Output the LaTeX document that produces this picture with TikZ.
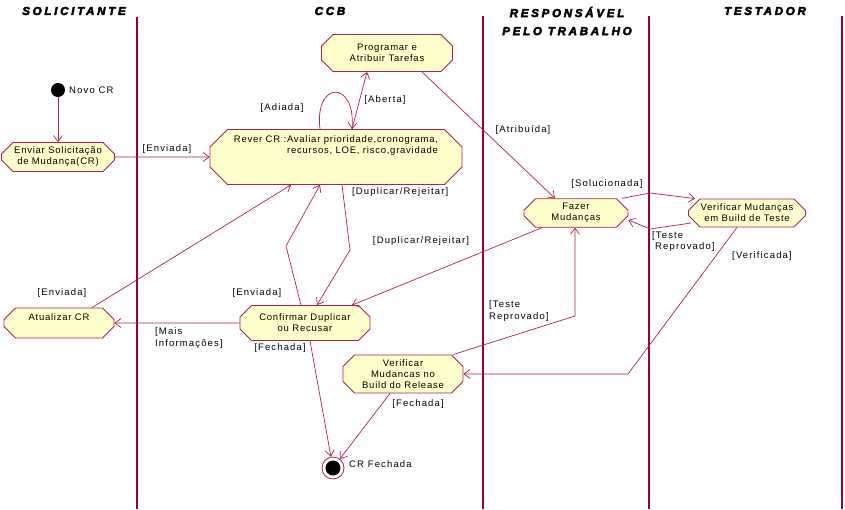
\documentclass[tikz,border=0pt]{standalone}
\usepackage{fontspec}
\setmainfont{Liberation Sans}
\newfontfamily\actfont[LetterSpace=8]{Liberation Sans}
\newfontfamily\guardfont[LetterSpace=12]{Liberation Sans}
\newfontfamily\lanefont[LetterSpace=24,FakeBold=4]{Liberation Sans}
\usetikzlibrary{arrows.meta,shapes.misc}
\definecolor{lanered}{RGB}{150,0,50}
\definecolor{actred}{RGB}{176,32,80}
\definecolor{actfill}{RGB}{255,255,204}
\begin{document}
\begin{tikzpicture}[x=1pt, y=-1pt,
  activity/.style={chamfered rectangle, chamfered rectangle xsep=8pt, draw=actred, fill=actfill,
    line width=0.8pt, inner sep=1pt, align=center, font=\actfont\fontsize{9.5}{11}\selectfont},
  guard/.style={inner sep=0pt, align=left, font=\guardfont\fontsize{9.5}{11.5}\selectfont},
  lane/.style={draw=lanered, line width=2.4pt},
  lanetitle/.style={inner sep=0pt, align=center, font=\lanefont\bfseries\itshape\fontsize{11.5}{18}\selectfont},
  flow/.style={draw=actred, line width=0.7pt, -{Straight Barb[length=6pt,width=9pt]}}]
  \useasboundingbox (0,0) rectangle (845,509);
  \draw[lane] (137,17) -- (137,509);
  \draw[lane] (483,16) -- (483,509);
  \draw[lane] (649,16) -- (649,509);
  \draw[lane] (842,16) -- (842,509);
  \node[lanetitle] (solicitante) at (74,11) {SOLICITANTE};
  \node[lanetitle] (ccb) at (330,11) {CCB};
  \node[lanetitle] (responsavel) at (567,21) {RESPONSÁVEL\\PELO TRABALHO};
  \node[lanetitle] (testador) at (765,11) {TESTADOR};

  \node[circle, fill=black, minimum size=14pt, inner sep=0pt] (novo) at (58,90) {};
  \node[guard, anchor=west] (novoLbl) at (69,90) {Novo CR};
  \node[activity, minimum width=113pt, minimum height=29pt] (enviar) at (58,157) {Enviar Solicitação\\de Mudança(CR)};
  \node[activity, align=right, minimum width=252pt, minimum height=55pt, chamfered rectangle xsep=14pt] (rever) at (336,157)
    {Rever CR :Avaliar prioridade,cronograma,\\recursos, LOE, risco,gravidade\\[14pt]\mbox{}};
  \node[activity, minimum width=131pt, minimum height=37pt] (programar) at (387,53) {Programar e\\Atribuir Tarefas};
  \node[activity, minimum width=104pt, minimum height=28pt] (fazer) at (576,213) {Fazer\\Mudanças};
  \node[activity, minimum width=117pt, minimum height=28pt] (vteste) at (747,213) {Verificar Mudanças\\em Build de Teste};
  \node[activity, minimum width=110pt, minimum height=30pt] (atualizar) at (59,323) {Atualizar CR\\\mbox{}};
  \node[activity, minimum width=130pt, minimum height=35pt] (confirmar) at (305,323) {Confirmar Duplicar\\ou Recusar};
  \node[activity, minimum width=120pt, minimum height=36pt] (vrelease) at (403,374) {Verificar\\Mudancas no\\Build do Release};
  \node[circle, draw=actred, line width=0.8pt, fill=white, minimum size=22pt, inner sep=0pt,
    path picture={\fill[black] (path picture bounding box.center) circle[radius=7.5pt];}] (fim) at (333,468) {};
  \node[guard, anchor=west] (fimLbl) at (349,464) {CR Fechada};

  \coordinate (solBend) at (650,193);
  \coordinate (reprovBend) at (650,229);
  \coordinate (verifBend) at (628,374);
  \coordinate (testeBend) at (575,316);
  \coordinate (dupBend) at (350,250);
  \coordinate (envBend) at (286,246);

  \draw[flow] (novo) -- (enviar);
  \draw[flow] (enviar) -- (rever);
  \draw[flow] ([xshift=-16pt]rever.north) .. controls (314,80) and (356,80) .. ([xshift=16pt]rever.north);
  \draw[flow] ([xshift=16pt]rever.north) -- ([xshift=-20pt]programar.south);
  \draw[flow] ([xshift=35pt]programar.south) -- ([xshift=-21pt]fazer.north);
  \draw[flow] ([xshift=46pt]fazer.north) -- (solBend) -- ([xshift=-52pt]vteste.north);
  \draw[flow] ([xshift=3pt,yshift=-10pt]vteste.west) -- (reprovBend) -- ([yshift=-7pt]fazer.east);
  \draw[flow] ([xshift=-10pt]vteste.south) -- (verifBend) -- (vrelease.east);
  \draw[flow] ([xshift=50pt]vrelease.north) -- (testeBend) -- ([xshift=-1pt]fazer.south);
  \draw[flow] ([xshift=-34pt]fazer.south) -- ([xshift=47pt]confirmar.north);
  \draw[flow] ([xshift=6pt]rever.south) -- (dupBend) -- ([xshift=12pt]confirmar.north);
  \draw[flow] ([xshift=-4pt]confirmar.north) -- (envBend) -- ([xshift=-16pt]rever.south);
  \draw[flow] ([xshift=33pt]atualizar.north) -- ([xshift=-45pt]rever.south);
  \draw[flow] (confirmar) -- (atualizar);
  \draw[flow] ([xshift=5pt]confirmar.south) -- (fim);
  \draw[flow] ([xshift=-13pt]vrelease.south) -- (fim);

  \node[guard] (lblEnviadaA) at (167,149) {[Enviada]};
  \node[guard] (lblAdiada) at (282,108) {[Adiada]};
  \node[guard] (lblAberta) at (385,100) {[Aberta]};
  \node[guard] (lblAtribuida) at (523,130) {[Atribuída]};
  \node[guard, anchor=west] (lblDuplicarA) at (352,192) {[Duplicar/Rejeitar]};
  \node[guard] (lblDuplicarB) at (421,241) {[Duplicar/Rejeitar]};
  \node[guard] (lblSolucionada) at (607,184) {[Solucionada]};
  \node[guard, anchor=west] (lblReprovadoA) at (652,241.5) {[Teste\\\hspace{3pt}Reprovado]};
  \node[guard] (lblVerificada) at (762,256) {[Verificada]};
  \node[guard, anchor=west] (lblReprovadoB) at (489,311) {[Teste\\Reprovado]};
  \node[guard] (lblEnviadaB) at (62,293) {[Enviada]};
  \node[guard] (lblEnviadaC) at (257,293) {[Enviada]};
  \node[guard, anchor=west] (lblMais) at (155,338) {[Mais\\Informações]};
  \node[guard] (lblFechadaA) at (280,348) {[Fechada]};
  \node[guard] (lblFechadaB) at (418,404) {[Fechada]};
\end{tikzpicture}
\end{document}
